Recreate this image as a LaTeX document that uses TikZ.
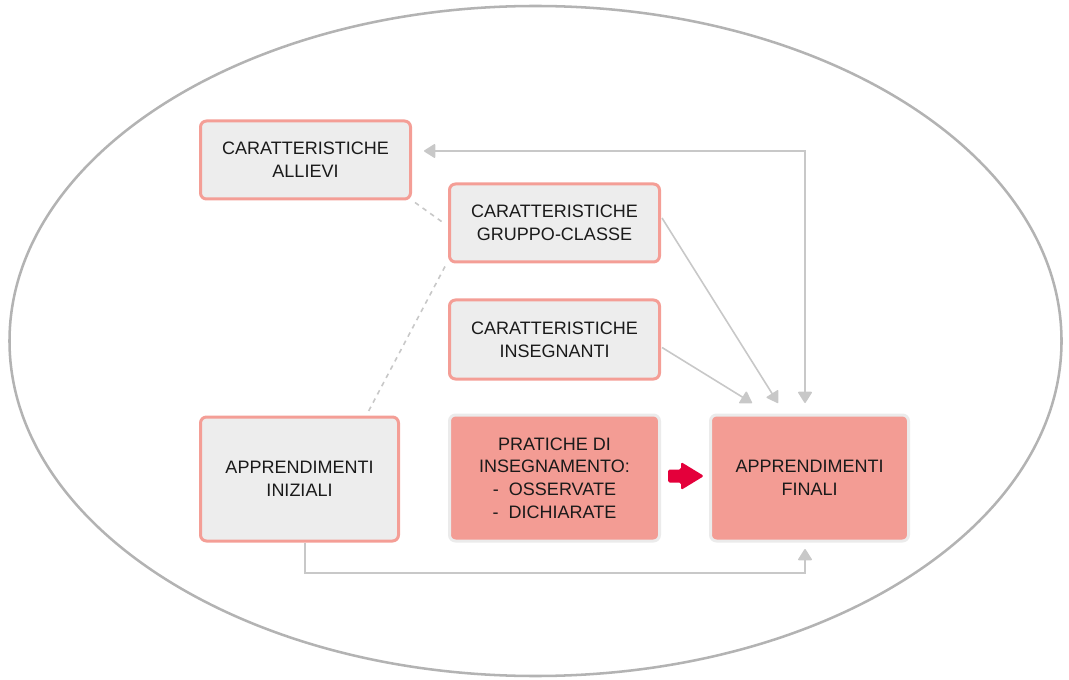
\documentclass[tikz,border=0pt]{standalone}
\usepackage{fontspec}
\setmainfont{Liberation Sans}
\usetikzlibrary{arrows.meta,calc}
\definecolor{boxgray}{HTML}{EDEDED}
\definecolor{salmon}{HTML}{F49E96}
\definecolor{salmonfill}{HTML}{F39C94}
\definecolor{lightborder}{HTML}{EBEBEB}
\definecolor{linegray}{HTML}{C8C8C8}
\definecolor{ellgray}{HTML}{B3B3B3}
\definecolor{redarrow}{HTML}{E4003B}
\definecolor{txt}{HTML}{1A1A1A}
\tikzset{
  lightbox/.style={draw=salmon, fill=boxgray, line width=2.25pt, rounded corners=4.5pt,
    align=center, text=txt, font=\fontsize{13.5}{17}\selectfont, inner sep=0pt},
  hotbox/.style={draw=lightborder, fill=salmonfill, line width=2.25pt, rounded corners=4.5pt,
    align=center, text=txt, font=\fontsize{13.5}{17}\selectfont, inner sep=0pt},
  conn/.style={draw=linegray, line width=1.2pt, -{Triangle[length=9pt,width=11pt,round]}},
  conntwo/.style={draw=linegray, line width=1.2pt, {Triangle[length=9pt,width=11pt,round]}-{Triangle[length=9pt,width=11pt,round]}},
  dashconn/.style={draw=linegray, line width=1.2pt, dash pattern=on 3.5pt off 3.5pt},
}
\begin{document}
\begin{tikzpicture}[x=0.75pt,y=-0.75pt]
\useasboundingbox (0,0) rectangle (1069,680);
\draw[ellgray, line width=1.9pt] (535.5,341) ellipse [x radius=394.5pt, y radius=251.25pt];

\node[lightbox, minimum width=157.5pt, minimum height=58.5pt] (al) at (305.5,160) {CARATTERISTICHE\\ALLIEVI};
\node[lightbox, minimum width=157.5pt, minimum height=58.5pt] (gc) at (554.5,223) {CARATTERISTICHE\\GRUPPO-CLASSE};
\node[lightbox, minimum width=157.5pt, minimum height=59.25pt] (ins) at (554.5,339.5) {CARATTERISTICHE\\INSEGNANTI};
\node[lightbox, minimum width=148.5pt, minimum height=93pt] (ini) at (299.5,479) {APPRENDIMENTI\\INIZIALI};
\node[hotbox, minimum width=157.5pt, minimum height=94.5pt] (pr) at (554.5,478)
  {PRATICHE DI\\INSEGNAMENTO:\\-\ \ OSSERVATE\\-\ \ DICHIARATE};
\node[hotbox, minimum width=148.5pt, minimum height=94.5pt] (fi) at (809.5,478) {APPRENDIMENTI\\FINALI};

% fix geometry of boxes back to original outlines (text shifted down 1.5px)
\coordinate (ra) at (686,476);
\fill[redarrow, rounded corners=1.2pt] ($(ra)+(-18,-6.5)$) -- ($(ra)+(-5,-6.5)$) -- ($(ra)+(-5,-14)$)
  -- ($(ra)+(18,0)$) -- ($(ra)+(-5,14)$) -- ($(ra)+(-5,6.5)$) -- ($(ra)+(-18,6.5)$) -- cycle;

\coordinate (t1) at (752,403);
\coordinate (t2) at (778,403);
\coordinate (t3) at (805,403);
\coordinate (tl) at (424,151);
\coordinate (tb) at (805,549);

\draw[conntwo] (tl) -- (805,151) -- (t3);
\draw[conn] ($(gc.east)+(1,-5)$) -- (t2);
\draw[conn] ($(ins.east)+(1,8)$) -- (t1);
\draw[conn] ($(ini.south)+(5.5,0)$) -- (305,573) -| (tb);

\draw[dashconn] ($(al.south east)+(3,2)$) -- ($(gc.west)+(-3,1)$);
\draw[dashconn] ($(gc.south west)+(-3,3)$) -- ($(ini.north west)!0.84!(ini.north east)+(0,-3)$);
\end{tikzpicture}
\end{document}
